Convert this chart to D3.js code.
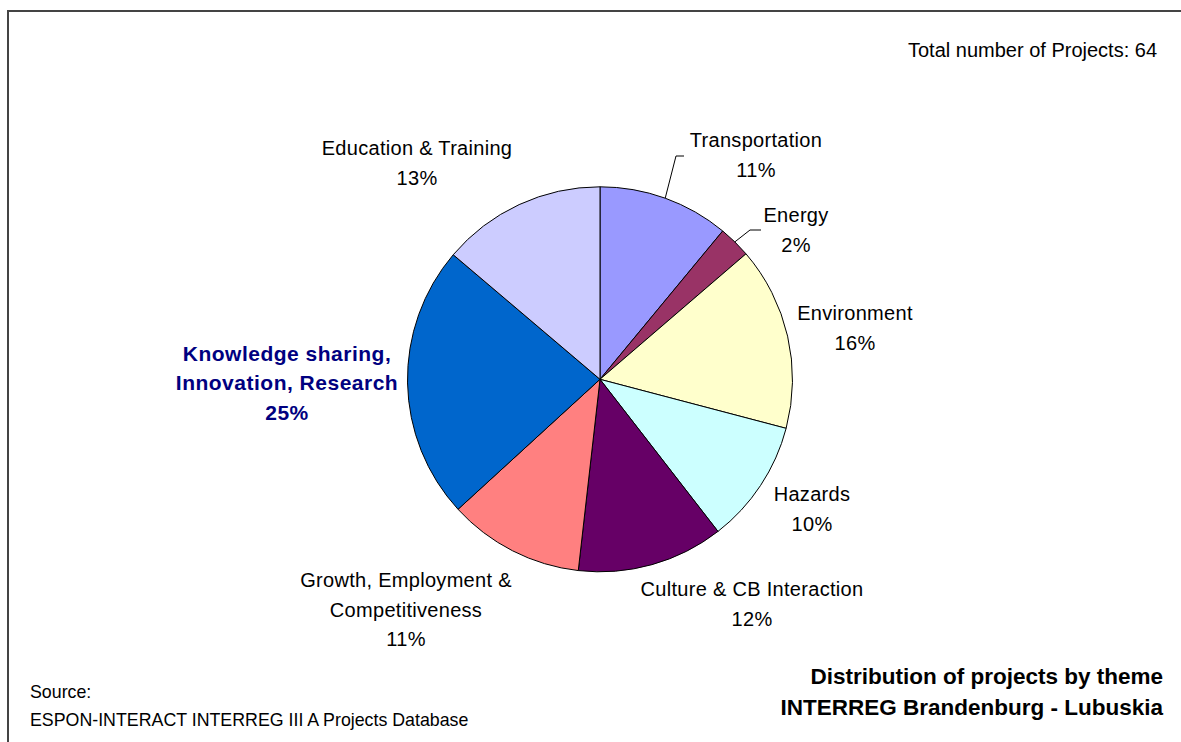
<!DOCTYPE html>
<html>
<head>
<meta charset="utf-8">
<script src="https://cdn.jsdelivr.net/npm/d3@7/dist/d3.min.js"></script>
<style>
  html, body { margin: 0; padding: 0; background: #fff; }
  svg { display: block; }
  text { font-family: Arial, "Liberation Sans", sans-serif; }
</style>
</head>
<body>
<svg id="chart" width="1181" height="742"></svg>
<script>
// ---- data ----
const themes = ["Transportation", "Energy", "Environment", "Hazards",
  "Culture & CB Interaction", "Growth, Employment & Competitiveness",
  "Knowledge sharing, Innovation, Research", "Education & Training"];
// slice sizes as drawn in the picture (percent of the circle)
const sliceShares = [11.0, 2.7, 15.4, 10.4, 12.3, 11.4, 23.0, 13.8];
// percentages as printed on the labels
const shareLabels = ["11%", "2%", "16%", "10%", "12%", "11%", "25%", "13%"];
const sliceColors = ["#9999FF", "#993366", "#FFFFCC", "#CCFFFF",
  "#660066", "#FF8080", "#0066CC", "#CCCCFF"];
const labelLines = [
  ["Transportation"], ["Energy"], ["Environment"], ["Hazards"],
  ["Culture & CB Interaction"], ["Growth, Employment &", "Competitiveness"],
  ["Knowledge sharing,", "Innovation, Research"], ["Education & Training"]
];
const totalProjects = 64;
const titleLines = ["Distribution of projects by theme", "INTERREG Brandenburg - Lubuskia"];
const sourceLines = ["Source:", "ESPON-INTERACT INTERREG III A Projects Database"];

// ---- layout (label placement, as positioned in the original) ----
const labelLayout = [
  { x: 756, y: 140, elbow: [676, 156, 684] },
  { x: 796, y: 215, elbow: [750, 230, 761] },
  { x: 855, y: 313 },
  { x: 812, y: 494 },
  { x: 752, y: 589 },
  { x: 406, y: 580 },
  { x: 287, y: 353, bold: true },
  { x: 417, y: 148 }
];

const svg = d3.select("#chart");
const W = 1181, H = 742;

svg.append("rect").attr("x", 0).attr("y", 0).attr("width", W).attr("height", H).attr("fill", "#fff");
svg.append("rect").attr("x", 8).attr("y", 11).attr("width", 1300).attr("height", 900)
  .attr("fill", "none").attr("stroke", "#444").attr("stroke-width", 2);

const cx = 600, cy = 379.3, R = 192.5;
const pie = d3.pie().sort(null).value(d => d)(sliceShares);
const arc = d3.arc().innerRadius(0).outerRadius(R);
const color = d3.scaleOrdinal().domain(d3.range(sliceShares.length)).range(sliceColors);

const g = svg.append("g").attr("transform", `translate(${cx},${cy})`);
g.selectAll("path").data(pie).join("path")
  .attr("d", arc)
  .attr("fill", (d, i) => color(i))
  .attr("stroke", "#000")
  .attr("stroke-width", 1);

// leader lines
pie.forEach((d, i) => {
  const L = labelLayout[i];
  if (!L.elbow) return;
  const a = (d.startAngle + d.endAngle) / 2;
  const sx = cx + R * Math.sin(a), sy = cy - R * Math.cos(a);
  svg.append("polyline")
    .attr("points", `${sx},${sy} ${L.elbow[0]},${L.elbow[1]} ${L.elbow[2]},${L.elbow[1]}`)
    .attr("fill", "none").attr("stroke", "#000").attr("stroke-width", 1);
});

// labels
const lh = 29.5;
pie.forEach((d, i) => {
  const L = labelLayout[i];
  const lines = labelLines[i].concat([shareLabels[i]]);
  const t = svg.append("text")
    .attr("text-anchor", "middle")
    .attr("font-size", L.bold ? 21 : 20)
    .attr("letter-spacing", L.bold ? 0.5 : 0.3)
    .attr("font-weight", L.bold ? "bold" : "normal")
    .attr("fill", L.bold ? "#000080" : "#000");
  lines.forEach((s, k) => {
    t.append("tspan").attr("x", L.x).attr("y", L.y + k * lh)
      .attr("dominant-baseline", "central").text(s);
  });
});

// total
svg.append("text").attr("x", 1157).attr("y", 50).attr("text-anchor", "end")
  .attr("dominant-baseline", "central").attr("font-size", 20)
  .text("Total number of Projects: " + totalProjects);

// title
titleLines.forEach((s, k) => {
  svg.append("text").attr("x", 1163).attr("y", 676 + k * 31).attr("text-anchor", "end")
    .attr("dominant-baseline", "central").attr("font-size", 22.5).attr("font-weight", "bold")
    .text(s);
});

// source
sourceLines.forEach((s, k) => {
  svg.append("text").attr("x", 30).attr("y", 692 + k * 28)
    .attr("dominant-baseline", "central").attr("font-size", 17.8)
    .text(s);
});
</script>
</body>
</html>
